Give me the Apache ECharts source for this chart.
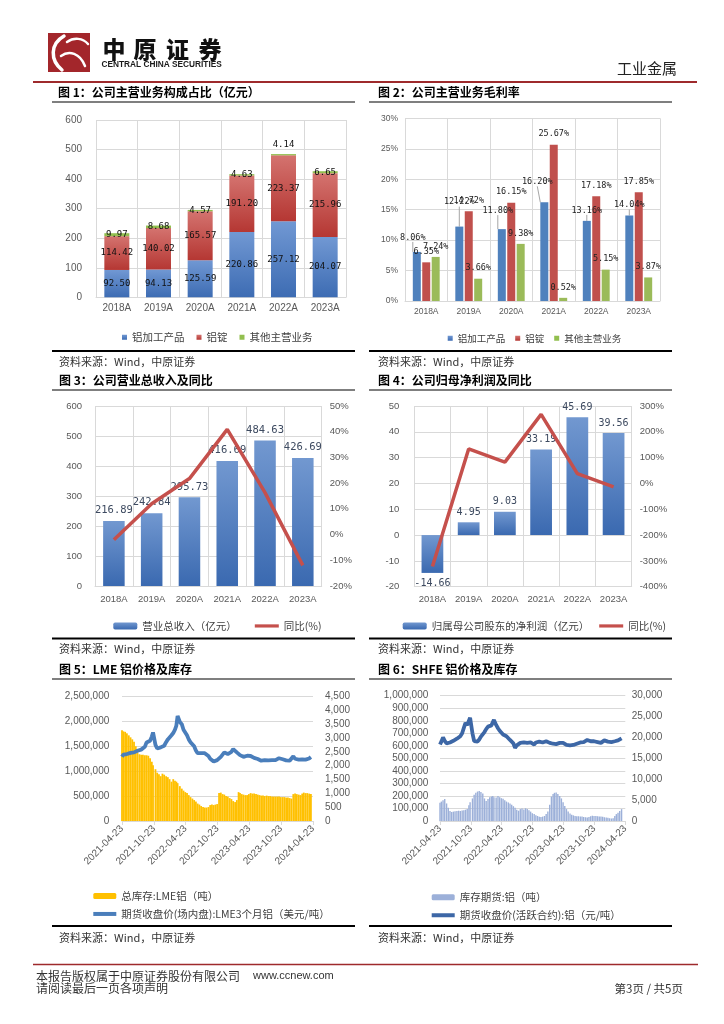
<!DOCTYPE html>
<html><head><meta charset="utf-8">
<script src="https://cdn.jsdelivr.net/npm/echarts@6/dist/echarts.min.js"></script>
<style>html,body{margin:0;padding:0;background:#fff}#c{width:724px;height:1024px}</style>
</head><body><div id="c"></div>
<script>
// ---------------- DATA ----------------
const years = ['2018A','2019A','2020A','2021A','2022A','2023A'];
// Fig 1: 主营业务构成 (亿元)
const revProcessed = [92.50, 94.13, 125.59, 220.86, 257.12, 204.07];
const revIngot     = [114.42, 140.02, 165.57, 191.20, 223.37, 215.96];
const revOther     = [9.97, 8.68, 4.57, 4.63, 4.14, 6.65];
// Fig 2: 毛利率 (%)
const gmProcessed = [8.06, 12.22, 11.80, 16.20, 13.16, 14.04];
const gmIngot     = [6.35, 14.72, 16.15, 25.67, 17.18, 17.85];
const gmOther     = [7.24, 3.66, 9.38, 0.52, 5.15, 3.87];
// Fig 3: 营业总收入 (亿元) & 同比 (%)
const totalRevenue = [216.89, 242.84, 295.73, 416.69, 484.63, 426.69];
const revenueYoY   = [-2.0, 11.96, 21.78, 40.91, 16.30, -11.96];
// Fig 4: 归母净利润 (亿元) & 同比 (%)
const netProfit = [-14.66, 4.95, 9.03, 33.19, 45.69, 39.56];
const profitYoY = [-322, 133.8, 82.4, 267.6, 37.7, -13.4];
// Fig 5/6: dates
const dateTicks = ['2021-04-23','2021-10-23','2022-04-23','2022-10-23','2023-04-23','2023-10-23','2024-04-23'];
const sampleDates = [
'2021-04-23',
'2021-05-01','2021-05-11','2021-05-21','2021-06-01','2021-06-11','2021-06-21',
'2021-07-01','2021-07-11','2021-07-21','2021-08-01','2021-08-11','2021-08-21',
'2021-09-01','2021-09-11','2021-09-21','2021-10-01','2021-10-11','2021-10-18',
'2021-11-01','2021-11-11','2021-11-21','2021-12-01','2021-12-11','2021-12-21',
'2022-01-01','2022-01-11','2022-01-21','2022-02-01','2022-02-11','2022-02-21',
'2022-03-01','2022-03-08','2022-03-21','2022-04-01','2022-04-11','2022-04-21',
'2022-05-01','2022-05-11','2022-05-21','2022-06-01','2022-06-11','2022-06-21',
'2022-07-01','2022-07-11','2022-07-21','2022-08-01','2022-08-11','2022-08-21',
'2022-09-01','2022-09-11','2022-09-21','2022-10-01','2022-10-11','2022-10-21',
'2022-11-01','2022-11-11','2022-11-21','2022-12-01','2022-12-11','2022-12-21',
'2023-01-01','2023-01-11','2023-01-21','2023-02-01','2023-02-11','2023-02-21',
'2023-03-01','2023-03-11','2023-03-21','2023-04-01','2023-04-11','2023-04-21',
'2023-05-01','2023-05-11','2023-05-21','2023-06-01','2023-06-11','2023-06-21',
'2023-07-01','2023-07-11','2023-07-21','2023-08-01','2023-08-11','2023-08-21',
'2023-09-01','2023-09-11','2023-09-21','2023-10-01','2023-10-11','2023-10-21',
'2023-11-01','2023-11-11','2023-11-21','2023-12-01','2023-12-11','2023-12-21',
'2024-01-01','2024-01-11','2024-01-21','2024-02-01','2024-02-11','2024-02-21',
'2024-03-01','2024-03-11','2024-03-21','2024-04-01','2024-04-11'
];
// 总库存:LME铝 (吨)
const lmeStock = [
1820000,1800000,1790000,1760000,1720000,1680000,1640000,1590000,1500000,1380000,
1340000,1330000,1330000,1320000,1320000,1310000,1260000,1190000,1120000,1040000,
970000,940000,900000,950000,930000,900000,880000,840000,790000,840000,
810000,790000,760000,700000,650000,610000,580000,560000,520000,480000,
450000,420000,390000,350000,330000,300000,280000,270000,270000,280000,
320000,330000,320000,330000,340000,560000,570000,540000,530000,500000,
490000,460000,440000,400000,380000,420000,580000,560000,540000,530000,
520000,520000,540000,560000,550000,550000,540000,530000,520000,510000,
510000,500000,510000,500000,500000,490000,490000,490000,490000,490000,
480000,480000,480000,470000,470000,460000,450000,540000,550000,540000,
530000,520000,550000,570000,560000,560000,550000,540000
];
// 期货收盘价(场内盘):LME3个月铝 (美元/吨)
const lmePrice = [
2320,2400,2450,2420,2440,2460,2420,2480,2500,2540,
2560,2580,2600,2680,2840,2880,2900,3050,3200,2750,
2620,2640,2660,2700,2720,2850,2950,3000,3100,3180,
3300,3450,3800,3580,3500,3300,3250,3100,2950,2850,
2800,2700,2550,2450,2430,2450,2480,2450,2420,2350,
2250,2200,2150,2120,2200,2250,2320,2400,2480,2550,
2420,2380,2500,2600,2580,2480,2420,2380,2350,2320,
2380,2360,2340,2350,2330,2280,2260,2240,2220,2180,
2160,2200,2170,2190,2180,2200,2220,2200,2240,2270,
2200,2230,2210,2190,2220,2180,2150,2340,2250,2200,
2220,2210,2230,2200,2220,2230,2260,2310
];
// 库存期货:铝 (吨)
const shfeStock = [
145000,155000,165000,175000,140000,105000,80000,72000,75000,78000,
80000,82000,80000,83000,86000,90000,95000,125000,150000,180000,
210000,225000,235000,240000,232000,220000,180000,160000,175000,190000,
195000,200000,190000,188000,200000,190000,182000,178000,165000,155000,
148000,140000,130000,118000,105000,90000,82000,95000,100000,92000,
102000,95000,85000,75000,62000,55000,45000,40000,33000,32000,
35000,40000,55000,75000,130000,195000,215000,225000,228000,215000,
200000,180000,150000,120000,95000,75000,60000,50000,45000,40000,
38000,38000,36000,35000,32000,30000,27000,32000,38000,42000,
40000,40000,38000,36000,35000,34000,30000,28000,25000,22000,
20000,22000,40000,55000,65000,80000,95000
];
// 期货收盘价(活跃合约):铝 (元/吨)
const shfePrice = [
18300,19000,20000,19200,18600,18700,18800,18900,19200,19500,
19700,19900,20300,21000,22300,23500,23000,23200,24700,21000,
19100,18700,19000,19500,20200,20600,21300,22000,22600,22500,
22900,23300,24200,23000,22200,21600,21300,20700,20500,20300,
19900,19400,19200,18600,17500,18100,18400,18700,18800,18800,
18600,18700,18500,18800,18500,18300,18800,19100,19000,19200,
18800,18900,19100,18900,18700,18600,18500,18300,18400,18600,
18700,18900,18700,18400,18200,18000,18100,18300,18200,18300,
18500,18600,18800,18900,18900,19200,19400,19300,19100,19000,
19100,19000,18900,18800,18700,18800,19300,19500,19000,19000,
18900,19000,19100,19200,19300,19500,19800
];

// ---------------- HELPERS ----------------
const SANS = '"Liberation Sans", Arial, sans-serif';
const CJK = '"Noto Sans CJK SC", sans-serif';
const MONO = '"DejaVu Sans Mono", monospace';
const AX = '#595959';
const GRIDC = '#d9d9d9';
const LINE_ICON = 'path://M0,0H30V4H0Z';
const LINE_ICON2 = 'path://M0,0H23V4H0Z';
function grad(a, b) { return new echarts.graphic.LinearGradient(0, 0, 0, 1, [{offset: 0, color: a}, {offset: 1, color: b}]); }
function toTime(s) { const p = s.split('-'); return Date.UTC(+p[0], +p[1] - 1, +p[2]); }
function fmtDate(v) {
  const d = new Date(v + 12 * 3600 * 1000);
  const m = d.getUTCMonth() + 1, dd = d.getUTCDate();
  return d.getUTCFullYear() + '-' + (m < 10 ? '0' : '') + m + '-' + (dd < 10 ? '0' : '') + dd;
}
function thousands(v) { return String(v).replace(/\B(?=(\d{3})+(?!\d))/g, ','); }
function zip(dates, vals) { return vals.map((v, i) => [toTime(dates[i]), v]); }
const f2 = p => Number(p.value).toFixed(2);
const f2p = p => Number(p.value).toFixed(2) + '%';

function catAxis(gi, fs, margin) {
  return {type: 'category', gridIndex: gi, data: years,
    axisLine: {onZero: false, lineStyle: {color: GRIDC, width: 1}}, axisTick: {show: false},
    splitLine: {show: true, lineStyle: {color: GRIDC, width: 1}},
    axisLabel: {color: AX, fontSize: fs, fontFamily: SANS, margin: margin}};
}
function valAxis(gi, min, max, interval, opts) {
  return Object.assign({type: 'value', gridIndex: gi, min: min, max: max, interval: interval,
    axisLine: {show: false}, axisTick: {show: false},
    splitLine: {show: true, lineStyle: {color: GRIDC, width: 1}},
    axisLabel: {color: AX, fontSize: 10, fontFamily: SANS}}, opts || {});
}
function dateAxis(gi) {
  const ticks = dateTicks.map(toTime);
  return {type: 'value', gridIndex: gi, min: ticks[0], max: ticks[ticks.length - 1], scale: true,
    axisLine: {show: true, onZero: false, lineStyle: {color: GRIDC, width: 1}},
    axisTick: {show: true, customValues: ticks, length: 4, lineStyle: {color: GRIDC}},
    splitLine: {show: false},
    axisLabel: {customValues: ticks, rotate: 45, margin: 6, color: AX, fontSize: 10, fontFamily: SANS,
      formatter: v => fmtDate(v), hideOverlap: false}};
}

// label shifts (styling) for fig 2 blue labels that Excel moved with leader lines
const c2BlueShift = {0: [-4, -4], 1: [0, -14], 2: [-4, -8], 3: [-7, -10]};
// fig 1: the "other" label that sits above the bar
const c1OtherAbove = {'2022A': true};

const option = {
  animation: false,
  backgroundColor: '#fff',
  grid: [
    {left: 96, top: 120, width: 250, height: 177.3},
    {left: 405, top: 118.3, width: 255, height: 182.7},
    {left: 95, top: 406, width: 226.7, height: 180},
    {left: 414.3, top: 406, width: 217.4, height: 180.7},
    {left: 122, top: 696.5, width: 191, height: 124.5},
    {left: 440, top: 695.7, width: 185.3, height: 125.3}
  ],
  xAxis: [
    catAxis(0, 10, 6), catAxis(1, 8.5, 6), catAxis(2, 9.5, 8), catAxis(3, 9.5, 8),
    dateAxis(4), dateAxis(5)
  ],
  yAxis: [
    valAxis(0, 0, 600, 100, {axisLabel: {color: AX, fontSize: 10, fontFamily: SANS, margin: 14}}),
    valAxis(1, 0, 30, 5, {axisLabel: {color: AX, fontSize: 8.5, fontFamily: SANS, margin: 7, formatter: '{value}%'}}),
    valAxis(2, 0, 600, 100, {axisLabel: {color: AX, fontSize: 9.5, fontFamily: SANS, margin: 13}}),
    valAxis(2, -20, 50, 10, {position: 'right', splitLine: {show: false}, axisLabel: {color: AX, fontSize: 9.5, fontFamily: SANS, margin: 8, formatter: '{value}%'}}),
    valAxis(3, -20, 50, 10, {axisLabel: {color: AX, fontSize: 9.5, fontFamily: SANS, margin: 15}}),
    valAxis(3, -400, 300, 100, {position: 'right', splitLine: {show: false}, axisLabel: {color: AX, fontSize: 9.5, fontFamily: SANS, margin: 8, formatter: '{value}%'}}),
    valAxis(4, 0, 2500000, 500000, {axisLabel: {color: AX, fontSize: 10, fontFamily: SANS, margin: 12.7, formatter: v => thousands(v)}}),
    valAxis(4, 0, 4500, 500, {position: 'right', splitLine: {show: false}, axisLabel: {color: AX, fontSize: 10, fontFamily: SANS, margin: 12, formatter: v => thousands(v)}}),
    valAxis(5, 0, 1000000, 100000, {axisLabel: {color: AX, fontSize: 10, fontFamily: SANS, margin: 11.7, formatter: v => thousands(v)}}),
    valAxis(5, 0, 30000, 5000, {position: 'right', splitLine: {show: false}, axisLabel: {color: AX, fontSize: 10, fontFamily: SANS, margin: 6.4, formatter: v => thousands(v)}})
  ],
  legend: [
    {data: ['铝加工产品', '铝锭', '其他主营业务'], left: 117, top: 327, icon: 'rect', itemWidth: 5, itemHeight: 5, itemGap: 12,
      textStyle: {fontFamily: CJK, fontSize: 10.5, color: '#404040'}, selectedMode: false},
    {data: ['铝加工产品', '铝锭', '其他主营业务'], left: 442.7, top: 328.5, icon: 'rect', itemWidth: 5, itemHeight: 5, itemGap: 10,
      textStyle: {fontFamily: CJK, fontSize: 9.5, color: '#404040'}, selectedMode: false},
    {data: ['营业总收入（亿元）', {name: '同比(%)', icon: LINE_ICON}], left: 108.3, top: 615.7, itemWidth: 24, itemHeight: 7, itemGap: 18,
      textStyle: {fontFamily: CJK, fontSize: 10.5, color: '#404040'}, selectedMode: false},
    {data: ['归属母公司股东的净利润（亿元）', {name: '同比(%)', icon: LINE_ICON}], left: 397.7, top: 615.7, itemWidth: 24, itemHeight: 7, itemGap: 10,
      textStyle: {fontFamily: CJK, fontSize: 10.5, color: '#404040'}, selectedMode: false},
    {data: ['总库存:LME铝（吨）', {name: '期货收盘价(场内盘):LME3个月铝（美元/吨）', icon: LINE_ICON2}], orient: 'vertical', left: 88.3, top: 885.7, itemWidth: 23, itemHeight: 6, itemGap: 7.5,
      textStyle: {fontFamily: CJK, fontSize: 10.5, color: '#404040'}, selectedMode: false},
    {data: ['库存期货:铝（吨）', {name: '期货收盘价(活跃合约):铝（元/吨）', icon: LINE_ICON2}], orient: 'vertical', left: 426.7, top: 887, itemWidth: 23, itemHeight: 6, itemGap: 7.5,
      textStyle: {fontFamily: CJK, fontSize: 10.5, color: '#404040'}, selectedMode: false}
  ],
  series: [
    // Fig 1
    {name: '铝加工产品', type: 'bar', stack: 'c1', xAxisIndex: 0, yAxisIndex: 0, barWidth: '60%', data: revProcessed,
      itemStyle: {color: grad('#7198d3', '#3d6cb3')},
      label: {show: true, position: 'inside', color: '#111', fontFamily: MONO, fontSize: 9, formatter: f2}},
    {name: '铝锭', type: 'bar', stack: 'c1', xAxisIndex: 0, yAxisIndex: 0, barWidth: '60%', data: revIngot,
      itemStyle: {color: grad('#d4736f', '#b53733')},
      label: {show: true, position: 'inside', color: '#111', fontFamily: MONO, fontSize: 9, formatter: f2}},
    {name: '其他主营业务', type: 'bar', stack: 'c1', xAxisIndex: 0, yAxisIndex: 0, barWidth: '60%',
      data: revOther.map((v, i) => c1OtherAbove[years[i]] ? {value: v, label: {position: 'top'}} : v),
      itemStyle: {color: '#92bf4f'},
      label: {show: true, position: 'inside', distance: 5, color: '#111', fontFamily: MONO, fontSize: 9, formatter: f2}},
    // Fig 2
    {name: '铝加工产品', type: 'bar', xAxisIndex: 1, yAxisIndex: 1, barWidth: 8, barGap: '18%', data: gmProcessed,
      itemStyle: {color: '#4f81bd'},
      label: {show: true, position: 'top', distance: 6, color: '#222', fontFamily: MONO, fontSize: 8.5, formatter: f2p},
      labelLine: {show: true, lineStyle: {color: '#a6a6a6', width: 1}},
      labelLayout: function (p) {
        const s = c2BlueShift[p.dataIndex];
        if (!s) return {};
        return {dx: s[0], dy: s[1]};
      }},
    {name: '铝锭', type: 'bar', xAxisIndex: 1, yAxisIndex: 1, barWidth: 8, barGap: '18%', data: gmIngot,
      itemStyle: {color: '#c0504d'},
      label: {show: true, position: 'top', distance: 6, color: '#222', fontFamily: MONO, fontSize: 8.5, formatter: f2p}},
    {name: '其他主营业务', type: 'bar', xAxisIndex: 1, yAxisIndex: 1, barWidth: 8, barGap: '18%', data: gmOther,
      itemStyle: {color: '#9bbb59'},
      label: {show: true, position: 'top', distance: 6, color: '#222', fontFamily: MONO, fontSize: 8.5, formatter: f2p}},
    // Fig 3
    {name: '营业总收入（亿元）', type: 'bar', xAxisIndex: 2, yAxisIndex: 2, barWidth: '57%', data: totalRevenue,
      itemStyle: {color: grad('#7298d0', '#3a69b0')},
      label: {show: true, position: 'top', distance: 5, color: '#3d4a60', fontFamily: MONO, fontSize: 10.5, formatter: f2}},
    {name: '同比(%)', type: 'line', xAxisIndex: 2, yAxisIndex: 3, data: revenueYoY, z: 5,
      symbol: 'none', lineStyle: {color: '#c5504c', width: 3.5}, itemStyle: {color: '#c5504c'}},
    // Fig 4
    {name: '归属母公司股东的净利润（亿元）', type: 'bar', xAxisIndex: 3, yAxisIndex: 4, barWidth: '60%',
      data: netProfit.map(v => v < 0 ? {value: v, label: {position: 'bottom'}} : v),
      itemStyle: {color: grad('#7298d0', '#3a69b0')},
      label: {show: true, position: 'top', distance: 5, color: '#3d4a60', fontFamily: MONO, fontSize: 10, formatter: f2}},
    {name: '同比(%)', type: 'line', xAxisIndex: 3, yAxisIndex: 5, data: profitYoY, z: 5,
      symbol: 'none', lineStyle: {color: '#c5504c', width: 3.5}, itemStyle: {color: '#c5504c'}},
    // Fig 5
    {name: '总库存:LME铝（吨）', type: 'bar', xAxisIndex: 4, yAxisIndex: 6, barWidth: 1.8, data: zip(sampleDates, lmeStock),
      itemStyle: {color: '#ffc000'}},
    {name: '期货收盘价(场内盘):LME3个月铝（美元/吨）', type: 'line', xAxisIndex: 4, yAxisIndex: 7, data: zip(sampleDates, lmePrice), z: 5,
      symbol: 'none', lineStyle: {color: '#4a7ebb', width: 3.8}, itemStyle: {color: '#4a7ebb'}},
    // Fig 6
    {name: '库存期货:铝（吨）', type: 'bar', xAxisIndex: 5, yAxisIndex: 8, barWidth: 1.4, data: zip(sampleDates, shfeStock),
      itemStyle: {color: '#9cb0d9'}},
    {name: '期货收盘价(活跃合约):铝（元/吨）', type: 'line', xAxisIndex: 5, yAxisIndex: 9, data: zip(sampleDates, shfePrice), z: 5,
      symbol: 'none', lineStyle: {color: '#3d67a6', width: 3.8}, itemStyle: {color: '#3d67a6'}}
  ]
};

// ---------------- PAGE DECORATION ----------------
function txt(x, y, text, font, fill, align) {
  return {type: 'text', x: x, y: y, silent: true,
    style: {text: text, font: font, fill: fill || '#000', align: align || 'left', verticalAlign: 'middle'}};
}
function hline(x1, x2, y, color, w) {
  return {type: 'line', silent: true, shape: {x1: x1, y1: y, x2: x2, y2: y}, style: {stroke: color, lineWidth: w}};
}
function curve(x1, y1, c1x, c1y, c2x, c2y, x2, y2, w) {
  return {type: 'bezierCurve', silent: true,
    shape: {x1: x1, y1: y1, cpx1: c1x, cpy1: c1y, cpx2: c2x, cpy2: c2y, x2: x2, y2: y2},
    style: {stroke: '#fff', lineWidth: w, fill: null, lineCap: 'round'}};
}
const TITLE = 'bold 12px "Noto Sans CJK SC"';
const SRC = '11px "Noto Sans CJK SC"';
const els = [
  {type: 'rect', silent: true, shape: {x: 48, y: 33, width: 42, height: 39}, style: {fill: '#a3262b'}},
  curve(64, 36, 50, 44, 50, 60, 62, 70, 3.5),
  curve(67, 42, 74, 37, 83, 38, 88, 44, 2.5),
  curve(61, 56, 69, 50, 80, 53, 85, 66, 2.5),
  txt(114, 49.5, '中', 'normal 900 23px "Noto Sans CJK SC"', '#111', 'center'),
  txt(145, 49.5, '原', 'normal 900 23px "Noto Sans CJK SC"', '#111', 'center'),
  txt(177.5, 49.5, '证', 'normal 900 23px "Noto Sans CJK SC"', '#111', 'center'),
  txt(210, 49.5, '券', 'normal 900 23px "Noto Sans CJK SC"', '#111', 'center'),
  txt(101.5, 65, 'CENTRAL CHINA SECURITIES', 'bold 8.3px "Liberation Sans"', '#1a1a1a'),
  txt(677, 68.5, '工业金属', '15px "Noto Sans CJK SC"', '#222', 'right'),
  hline(33, 697, 82, '#9e2a2c', 2),
  // titles
  txt(58, 92, '图 1：公司主营业务构成占比（亿元）', TITLE),
  txt(378, 92, '图 2：公司主营业务毛利率', TITLE),
  hline(52, 355, 102, '#000', 1.2), hline(369, 672, 102, '#000', 1.2),
  hline(52, 355, 351, '#000', 2), hline(369, 672, 351, '#000', 2),
  txt(59, 362, '资料来源：Wind，中原证券', SRC, '#333'),
  txt(378, 362, '资料来源：Wind，中原证券', SRC, '#333'),
  txt(59, 380, '图 3：公司营业总收入及同比', TITLE),
  txt(378, 380, '图 4：公司归母净利润及同比', TITLE),
  hline(52, 355, 390, '#000', 1.2), hline(369, 672, 390, '#000', 1.2),
  hline(52, 355, 638.5, '#000', 2), hline(369, 672, 638.5, '#000', 2),
  txt(59, 649, '资料来源：Wind，中原证券', SRC, '#333'),
  txt(378, 649, '资料来源：Wind，中原证券', SRC, '#333'),
  txt(59, 669.5, '图 5：LME 铝价格及库存', TITLE),
  txt(378, 669.5, '图 6：SHFE 铝价格及库存', TITLE),
  hline(52, 355, 679, '#000', 1.2), hline(369, 672, 679, '#000', 1.2),
  hline(52, 355, 926, '#000', 2), hline(369, 672, 926, '#000', 2),
  txt(59, 938, '资料来源：Wind，中原证券', SRC, '#333'),
  txt(378, 938, '资料来源：Wind，中原证券', SRC, '#333'),
  // footer
  hline(33, 698, 964.5, '#9e2a2c', 1.5),
  txt(36, 976, '本报告版权属于中原证券股份有限公司', '12px "Noto Sans CJK SC"', '#333'),
  txt(253, 976, 'www.ccnew.com', '11px "Liberation Sans"', '#333'),
  txt(36, 988.5, '请阅读最后一页各项声明', '12px "Noto Sans CJK SC"', '#333'),
  txt(683, 988.5, '第3页 / 共5页', '11.5px "Noto Sans CJK SC"', '#333', 'right')
];
option.graphic = {elements: els};

const chart = echarts.init(document.getElementById('c'), null, {renderer: 'canvas'});
chart.setOption(option);
</script>
</body></html>
